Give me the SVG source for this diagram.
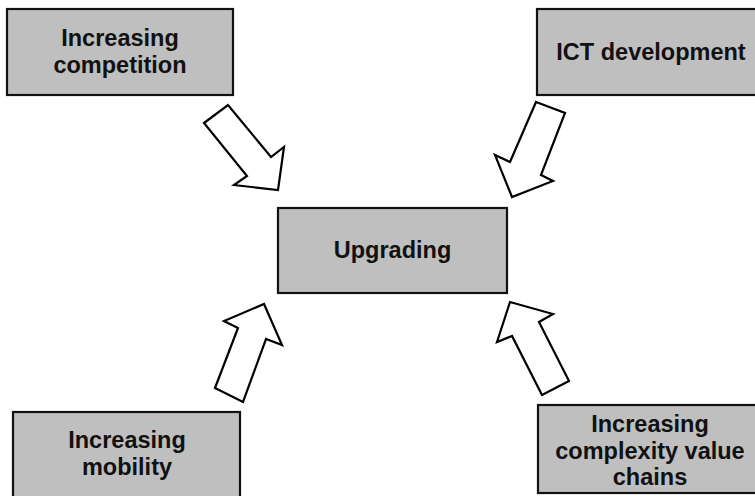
<svg xmlns="http://www.w3.org/2000/svg" width="755" height="496" viewBox="0 0 755 496">
<style>
.box{fill:#bfbfbf;stroke:#111;stroke-width:2.2}
.lbl{font-family:"Liberation Sans",Arial,sans-serif;font-weight:bold;font-size:23.5px;fill:#111;text-anchor:middle}
.arr{fill:#fff;stroke:#000;stroke-width:2.2;stroke-linejoin:miter}
</style>
<rect width="755" height="496" fill="#fff"/>
<g id="connectors">
<polygon class="arr" points="204,123 228,105 271,157 284,147 278,190 234,185 247,176"/>
<polygon class="arr" points="536,102 565,113 541,175 553,181 512,197 495,155 510,162"/>
<polygon class="arr" points="215,388 238,328 224,321 264,304 282,345 266,339 243,402"/>
<polygon class="arr" points="569,381 542,395 512,336 497,342 510,302 553,314 539,322"/>
</g>
<g id="competition">
<rect class="box" x="7" y="9" width="226" height="86"/>
<text class="lbl" x="120" y="46">Increasing</text>
<text class="lbl" x="120" y="73">competition</text>
</g>
<g id="ict">
<rect class="box" x="537" y="9" width="228" height="86"/>
<text class="lbl" x="651" y="60">ICT development</text>
</g>
<g id="upgrading">
<rect class="box" x="278" y="208" width="229" height="85"/>
<text class="lbl" x="392.5" y="258">Upgrading</text>
</g>
<g id="mobility">
<rect class="box" x="13" y="412" width="227" height="100"/>
<text class="lbl" x="127" y="448">Increasing</text>
<text class="lbl" x="127" y="475">mobility</text>
</g>
<g id="complexity">
<rect class="box" x="538" y="405" width="224" height="88"/>
<text class="lbl" x="650" y="432">Increasing</text>
<text class="lbl" x="650" y="459">complexity value</text>
<text class="lbl" x="650" y="485">chains</text>
</g>
</svg>
